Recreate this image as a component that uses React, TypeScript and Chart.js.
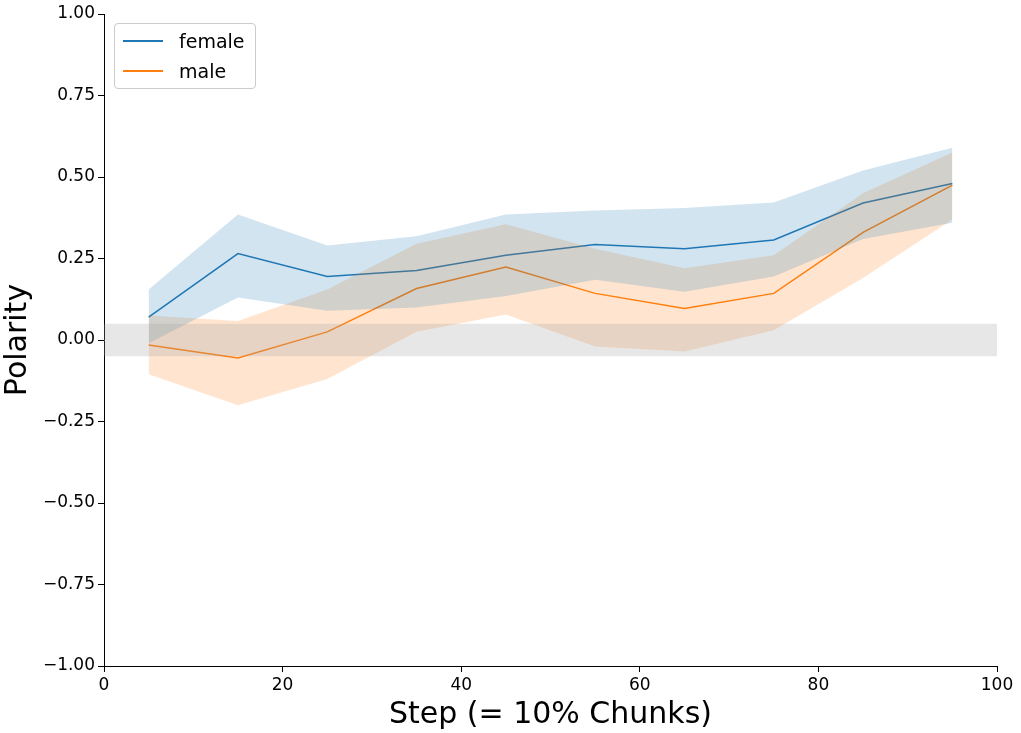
import { Chart, registerables } from 'chart.js';
import { useEffect, useRef } from 'react';

Chart.register(...registerables);

const steps = [5, 15, 25, 35, 45, 55, 65, 75, 85, 95];
const femaleMean = [0.07, 0.265, 0.195, 0.213, 0.26, 0.293, 0.28, 0.307, 0.42, 0.48];
const femaleUpper = [0.155, 0.385, 0.29, 0.318, 0.385, 0.397, 0.405, 0.422, 0.52, 0.59];
const femaleLower = [-0.01, 0.13, 0.09, 0.1, 0.135, 0.185, 0.148, 0.195, 0.31, 0.36];
const maleMean = [-0.015, -0.055, 0.025, 0.158, 0.224, 0.143, 0.097, 0.143, 0.33, 0.475];
const maleUpper = [0.075, 0.058, 0.155, 0.295, 0.355, 0.28, 0.22, 0.26, 0.45, 0.575];
const maleLower = [-0.105, -0.2, -0.12, 0.025, 0.078, -0.02, -0.035, 0.03, 0.19, 0.37];
const neutralBand = [-0.05, 0.05];

const pts = (ys: number[]) => steps.map((x, i) => ({ x, y: ys[i] }));
const font = 'DejaVu Sans';

export default function App() {
  const canvasRef = useRef<HTMLCanvasElement>(null);

  useEffect(() => {
    const canvas = canvasRef.current;
    if (!canvas) return undefined;
    const band = (lo: number[], hi: number[], color: string) => [
      { data: pts(lo), borderWidth: 0, pointRadius: 0, fill: false, backgroundColor: color },
      { data: pts(hi), borderWidth: 0, pointRadius: 0, fill: '-1', backgroundColor: color },
    ];
    const chart = new Chart(canvas, {
      type: 'line',
      data: {
        datasets: [
          { data: [{ x: 0, y: neutralBand[0] }, { x: 100, y: neutralBand[0] }], borderWidth: 0, pointRadius: 0, fill: false, backgroundColor: 'rgba(160,160,160,0.25)' },
          { data: [{ x: 0, y: neutralBand[1] }, { x: 100, y: neutralBand[1] }], borderWidth: 0, pointRadius: 0, fill: '-1', backgroundColor: 'rgba(160,160,160,0.25)' },
          ...band(femaleLower, femaleUpper, 'rgba(31,119,180,0.2)'),
          ...band(maleLower, maleUpper, 'rgba(255,127,14,0.2)'),
          { data: pts(femaleMean), borderColor: '#1f77b4', borderWidth: 1.5, pointRadius: 0, fill: false },
          { data: pts(maleMean), borderColor: '#ff7f0e', borderWidth: 1.5, pointRadius: 0, fill: false },
        ] as any,
      },
      options: {
        animation: false,
        responsive: false,
        layout: { padding: { top: 14, right: 24, left: 0, bottom: 0 } },
        plugins: { legend: { display: false }, tooltip: { enabled: false } },
        scales: {
          x: {
            type: 'linear', min: 0, max: 100,
            ticks: { stepSize: 20, color: '#000', font: { family: font, size: 17 } },
            grid: { drawOnChartArea: false, tickLength: 6, color: '#000' },
            border: { color: '#000' },
            title: { display: true, text: 'Step (= 10% Chunks)', color: '#000', font: { family: font, size: 30 }, padding: 0 },
            afterFit: (s: any) => { s.height = 67; },
          },
          y: {
            min: -1, max: 1,
            ticks: { stepSize: 0.25, color: '#000', font: { family: font, size: 17 }, callback: (v: any) => Number(v).toFixed(2).replace('-', '\u2212') },
            grid: { drawOnChartArea: false, tickLength: 6, color: '#000' },
            border: { color: '#000' },
            title: { display: true, text: 'Polarity', color: '#000', font: { family: font, size: 30 }, padding: 0 },
            afterFit: (s: any) => { s.width = 104; },
          },
        },
      },
    });
    return () => chart.destroy();
  }, []);

  const item = (color: string, label: string) => (
    <div style={{ display: 'flex', alignItems: 'center', height: 30 }}>
      <div style={{ width: 40, height: 0, borderTop: `2px solid ${color}`, marginRight: 16 }} />
      <span>{label}</span>
    </div>
  );

  return (
    <div style={{ position: 'fixed', left: 0, top: 0, width: 1021, height: 733, background: '#fff' }}>
      <canvas ref={canvasRef} width={1021} height={733} />
      <div style={{ position: 'absolute', left: 114, top: 23, padding: '2px 8px', border: '1px solid #ccc', borderRadius: 4, background: 'rgba(255,255,255,0.8)', fontFamily: font, fontSize: 19, width: 124 }}>
        {item('#1f77b4', 'female')}
        {item('#ff7f0e', 'male')}
      </div>
    </div>
  );
}
